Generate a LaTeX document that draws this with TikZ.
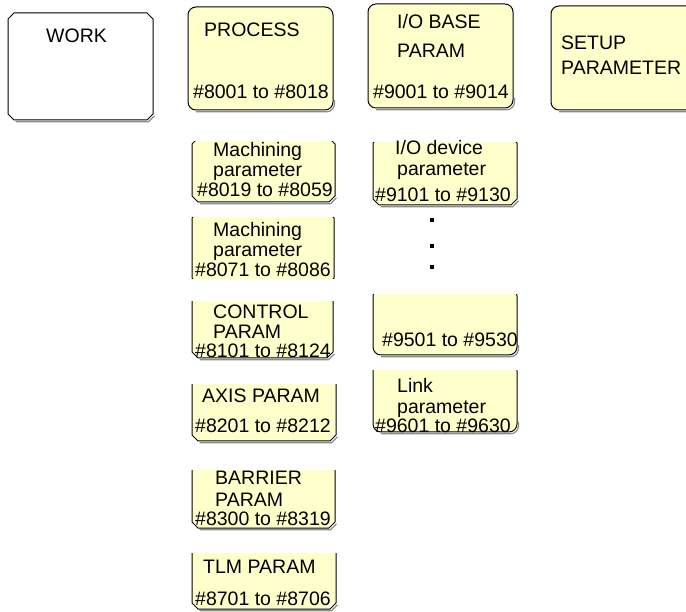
\documentclass[tikz,border=0pt]{standalone}
\usepackage{fontspec}
\setmainfont{Liberation Sans}
\definecolor{boxyellow}{HTML}{FFFFCC}
\tikzset{
  lbl/.style={anchor=base west, inner sep=0pt, font=\fontsize{19.5}{22}\selectfont},
  boxline/.style={draw=black, line width=1pt},
  shade/.style={draw=black!45, line width=1.2pt},
  dotmark/.style={fill=black, inner sep=0pt, minimum size=3.4pt, rectangle}
}
% chamfered box: x0 y0 x1 y1 cliptop clipbot fill
\newcommand\CBox[7]{%
  \begin{scope}
    \clip (#1-4,#5) rectangle (#3+4,#6);
    \draw[shade] (#1+6+1.5,#4+1.8) -- (#3-6+1.5,#4+1.8) -- (#3+1.5,#4-6+1.8);
    \filldraw[fill=#7, boxline] (#1+6,#2) -- (#3-6,#2) -- (#3,#2+6) -- (#3,#4-6) -- (#3-6,#4) -- (#1+6,#4) -- (#1,#4-6) -- (#1,#2+6) -- cycle;
  \end{scope}}
% rounded box
\newcommand\RBox[7]{%
  \begin{scope}
    \clip (#1-4,#5) rectangle (#3+4,#6);
    \draw[shade, rounded corners=8pt] (#1+8,#4+1.8) -- (#3+1.5,#4+1.8) -- (#3+1.5,#4-10);
    \filldraw[fill=#7, boxline, rounded corners=8pt] (#1,#2) rectangle (#3,#4);
  \end{scope}}
\begin{document}
\begin{tikzpicture}[x=1pt,y=-1pt]
\useasboundingbox (0,0) rectangle (686,612);
\fill[white] (0,0) rectangle (686,612);

% boxes
\CBox{8}{13}{153}{120}{9}{124}{white}
\RBox{188}{7}{333}{110}{3}{114}{boxyellow}
\RBox{368}{4}{513}{108}{0}{112}{boxyellow}
\RBox{551}{6}{730}{110}{2}{114}{boxyellow}
\CBox{192}{138}{335}{202}{142}{206}{boxyellow}
\CBox{192}{212}{334}{284}{218}{279}{boxyellow}
\CBox{192}{295}{333}{358}{302}{362}{boxyellow}
\CBox{192}{378}{336}{441}{385}{445}{boxyellow}
\CBox{192}{463}{335}{528}{470}{532}{boxyellow}
\CBox{192}{546}{336}{609}{553}{612}{boxyellow}
\CBox{373}{137}{517}{205}{143}{209}{boxyellow}
\RBox{373}{288}{517}{355}{295}{359}{boxyellow}
\RBox{373}{363}{517}{432}{371}{436}{boxyellow}

% texts
\node[lbl] (work) at (46,43) {WORK};
\node[lbl] (proc) at (204,37) {PROCESS};
\node[lbl] (procr) at (193,99) {\#8001 to \#8018};
\node[lbl] (iob1) at (397,29) {I/O BASE};
\node[lbl] (iob2) at (397,58) {PARAM};
\node[lbl] (iobr) at (373,99) {\#9001 to \#9014};
\node[lbl] (set1) at (561,50) {SETUP};
\node[lbl] (set2) at (561,75) {PARAMETER};

\node[lbl] (ma1) at (213,157) {Machining};
\node[lbl] (ma2) at (213,177) {parameter};
\node[lbl] (mar) at (197,197) {\#8019 to \#8059};
\node[lbl] (mb1) at (213,237) {Machining};
\node[lbl] (mb2) at (213,257) {parameter};
\node[lbl] (mbr) at (195,277) {\#8071 to \#8086};
\node[lbl] (ct1) at (213,319) {CONTROL};
\node[lbl] (ct2) at (213,339) {PARAM};
\node[lbl] (ctr) at (195,358) {\#8101 to \#8124};
\node[lbl] (ax1) at (202,403) {AXIS PARAM};
\node[lbl] (axr) at (195,433) {\#8201 to \#8212};
\node[lbl] (ba1) at (215,485) {BARRIER};
\node[lbl] (ba2) at (215,506) {PARAM};
\node[lbl] (bar) at (195,525) {\#8300 to \#8319};
\node[lbl] (tl1) at (203,573) {TLM PARAM};
\node[lbl] (tlr) at (195,605) {\#8701 to \#8706};

\node[lbl] (io1) at (395,155) {I/O device};
\node[lbl] (io2) at (397,176) {parameter};
\node[lbl] (ior) at (375,202) {\#9101 to \#9130};
\node[lbl] (n95) at (382,347) {\#9501 to \#9530};
\node[lbl] (lk1) at (397,393) {Link};
\node[lbl] (lk2) at (397,414) {parameter};
\node[lbl] (lkr) at (375,433) {\#9601 to \#9630};

% dots
\node[dotmark] (d1) at (432,220) {};
\node[dotmark] (d2) at (432,246) {};
\node[dotmark] (d3) at (432,267) {};
\end{tikzpicture}
\end{document}
